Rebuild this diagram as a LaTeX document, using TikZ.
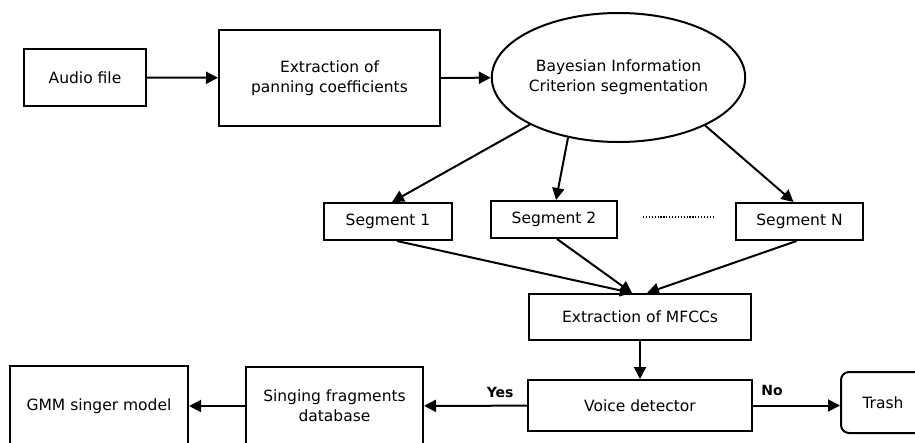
\documentclass[tikz,border=0pt]{standalone}
\usepackage{fontspec}
\setmainfont{DejaVu Sans}
\usepackage{tikz}
\usetikzlibrary{arrows.meta,positioning,shapes.geometric}

\begin{document}
\begin{tikzpicture}[
  x=1pt, y=-1pt,
  b/.style={draw, line width=2pt, minimum height=37pt, align=center, inner sep=2pt, font=\fontsize{15.5}{20}\selectfont},
  e/.style={b, ellipse, inner sep=0pt},
  a/.style={-{Triangle[length=12pt,width=12pt]}, line width=2pt},
  l/.style={font=\fontsize{14}{16}\selectfont\bfseries, inner sep=3pt}
]
  \useasboundingbox (0,0) rectangle (915,442);
  \node[b, minimum width=122pt, minimum height=57pt] (af) at (85,77.5) {Audio file};
  \node[b, minimum width=221pt, minimum height=96pt] (pc) at (329.5,78) {Extraction of\\ panning coefficients};
  \node[e, minimum width=241pt, minimum height=129pt] (bic) at (618.5,77.5) {Bayesian Information\\ Criterion segmentation};
  \node[b, minimum width=128pt] (s1) at (388,221.5) {Segment 1};
  \node[b, minimum width=126pt] (s2) at (554,219.5) {Segment 2};
  \node[b, minimum width=127pt] (sn) at (799.5,221.5) {Segment N};
  \node[b, minimum width=222pt, minimum height=46pt] (mf) at (640,317) {Extraction of MFCCs};
  \node[b, minimum width=224pt, minimum height=51pt] (vd) at (640,405.5) {Voice detector};
  \node[b, rounded corners=8pt, minimum width=84pt, minimum height=61pt] (tr) at (883,402.5) {Trash};
  \node[b, minimum width=177pt, minimum height=78pt] (sf) at (334.5,406) {Singing fragments\\ database};
  \node[b, minimum width=178pt, minimum height=80pt] (gmm) at (99,406) {GMM singer model};
  \coordinate (m1) at ([xshift=-8pt]mf.north);
  \coordinate (m2) at ([xshift=7pt]mf.north);

  \draw[line width=2.2pt, dash pattern=on 1.2pt off 1.7pt] (643,217) -- (713,217);

  \draw[a] (af) -- (pc);
  \draw[a] (pc) -- (bic);
  \draw[a] (bic.208) -- ([xshift=4pt]s1.north);
  \draw[a] (bic.230) -- ([xshift=2pt]s2.north);
  \draw[a] (bic.331) -- ([xshift=-6pt]sn.north);
  \draw[a] ([xshift=9pt]s1.south) -- (m1);
  \draw[a] ([xshift=3pt]s2.south) -- (m1);
  \draw[a] ([xshift=-3pt]sn.south) -- (m2);
  \draw[a] (mf) -- (vd);
  \draw[a] (vd) -- node[l, above=4pt, pos=.26]{Yes} (sf);
  \draw[a] (vd.east) -- node[l, above=6pt, pos=.22]{No} (vd.east -| tr.west);
  \draw[a] (sf) -- (gmm);
\end{tikzpicture}
\end{document}
